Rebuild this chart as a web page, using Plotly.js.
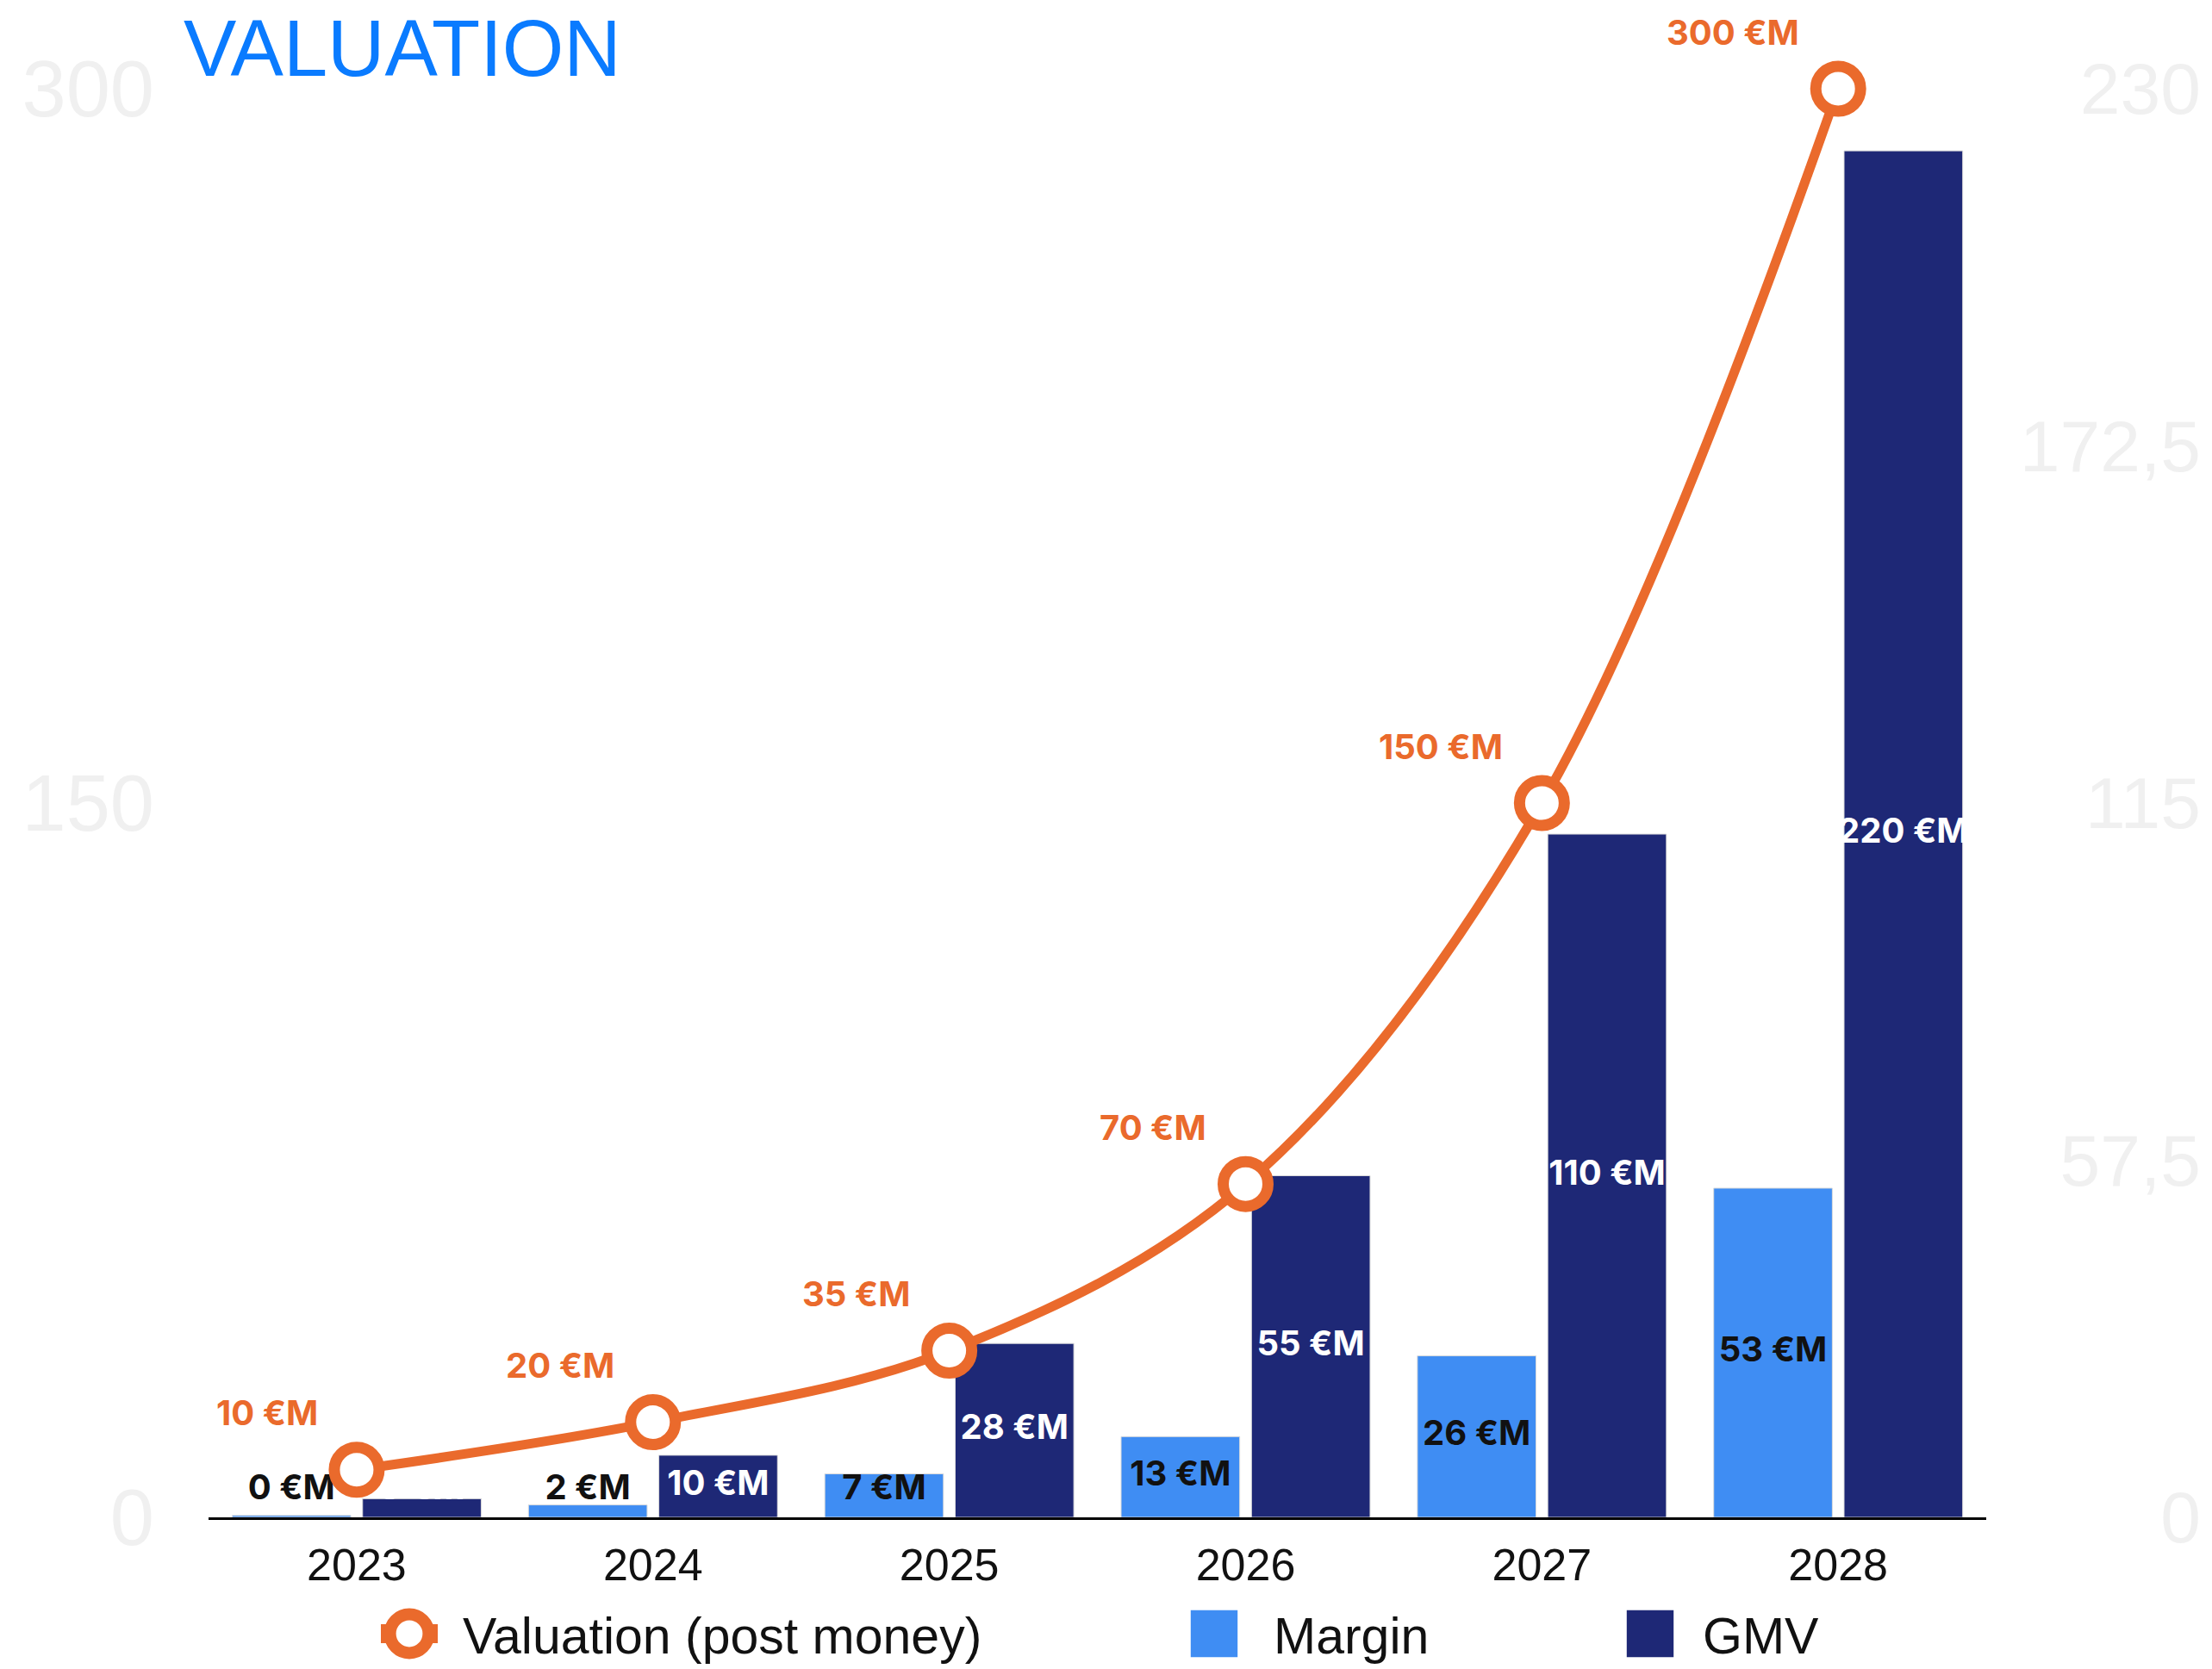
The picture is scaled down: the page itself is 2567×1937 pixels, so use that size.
<!DOCTYPE html>
<html>
<head>
<meta charset="utf-8">
<script src="https://cdn.plot.ly/plotly-3.0.1.min.js"></script>
<style>html,body{margin:0;padding:0;background:#fff;}#chart{width:2567px;height:1937px;}</style>
</head>
<body>
<div id="chart"></div>
<script>
const years = [2023, 2024, 2025, 2026, 2027, 2028];
const yearLabels = ['2023', '2024', '2025', '2026', '2027', '2028'];
const valuation = [10, 20, 35, 70, 150, 300];
const margin = [0.3, 2, 7, 13, 26, 53];
const gmv = [3, 10, 28, 55, 110, 220];
const leftTicks = [0, 150, 300];
const leftTickText = ['0', '150', '300'];
const rightTicks = [0, 57.5, 115, 172.5, 230];
const rightTickText = ['0', '57,5', '115', '172,5', '230'];

const ORANGE = '#EA6A2C';
const LIGHT = '#3F8DF3';
const NAVY = '#1E2876';
const SANS = '"Liberation Sans", Arial, sans-serif';
const BOLD = 'Inter, "Open Sans", sans-serif';
const fmt = v => Math.round(v) + ' €M';
const OFF = 0.22;
const labelY = v => Math.max(v / 2, 4.3);

const traces = [
  {type: 'bar', name: 'Margin', x: years, y: margin, yaxis: 'y', showlegend: false,
   marker: {color: LIGHT, line: {color: '#dcdcdc', width: 1}}, hoverinfo: 'skip'},
  {type: 'bar', name: 'GMV', x: years, y: gmv, yaxis: 'y', showlegend: false,
   marker: {color: NAVY, line: {color: '#dcdcdc', width: 1}}, hoverinfo: 'skip'},
  // legend entries for the two bar series (square swatches)
  {type: 'scatter', mode: 'markers', name: 'Margin', legendrank: 2, x: [null], y: [null], yaxis: 'y',
   marker: {symbol: 'square', size: 16, color: LIGHT}, hoverinfo: 'skip'},
  {type: 'scatter', mode: 'markers', name: 'GMV', legendrank: 3, x: [null], y: [null], yaxis: 'y',
   marker: {symbol: 'square', size: 16, color: NAVY}, hoverinfo: 'skip'},
  {type: 'scatter', mode: 'text', showlegend: false, yaxis: 'y', cliponaxis: false,
   x: years.map(v => v - OFF), y: margin.map(labelY), text: margin.map(fmt),
   textposition: 'middle center', textfont: {family: BOLD, size: 40, weight: 700, color: '#111'}},
  {type: 'scatter', mode: 'text', showlegend: false, yaxis: 'y', cliponaxis: false,
   x: years.map(v => v + OFF), y: gmv.map(labelY), text: gmv.map(fmt),
   textposition: 'middle center', textfont: {family: BOLD, size: 40, weight: 700, color: '#ffffff'}},
  {type: 'scatter', mode: 'lines+markers', name: 'Valuation (post money)', legendrank: 1,
   x: years, y: valuation, yaxis: 'y2', cliponaxis: false,
   line: {color: ORANGE, width: 11, shape: 'spline', smoothing: 1},
   marker: {symbol: 'circle', size: 52, color: '#ffffff', line: {color: ORANGE, width: 13}}}
];

const annotations = years.map((yr, i) => ({
  x: yr, y: valuation[i], xref: 'x', yref: 'y2', text: fmt(valuation[i]), showarrow: false,
  xanchor: 'right', yanchor: 'middle', xshift: -43, yshift: 66,
  font: {family: BOLD, size: 40, weight: 700, color: ORANGE}
}));

const layout = {
  width: 2567, height: 1937,
  margin: {l: 242, r: 10, t: 103, b: 176, pad: 0, autoexpand: false},
  paper_bgcolor: '#ffffff', plot_bgcolor: '#ffffff',
  showlegend: true,
  barmode: 'group', bargap: 0.12, bargroupgap: 0.09,
  title: {text: 'VALUATION', xref: 'container', yref: 'container', x: 213 / 2567, xanchor: 'left',
    y: 0.9877, yanchor: 'top', font: {family: SANS, size: 92, color: '#0A7BFF'}},
  xaxis: {domain: [0, 0.8912], range: [2022.5, 2028.5], tickvals: years, ticktext: yearLabels,
    showline: true, linecolor: '#000', linewidth: 3, ticks: '', showgrid: false, zeroline: false,
    ticklabelstandoff: 8, tickfont: {family: SANS, size: 52, color: '#111'}},
  yaxis: {range: [0, 230], anchor: 'free', position: 1, side: 'right', ticklabelposition: 'inside',
    ticklabeloverflow: 'allow',
    tickvals: rightTicks, ticktext: rightTickText, showgrid: false, zeroline: false, showline: false, ticks: '',
    tickfont: {family: SANS, size: 84, color: '#f0f0f0'}},
  yaxis2: {range: [0, 300], overlaying: 'y', side: 'left', anchor: 'x',
    tickvals: leftTicks, ticktext: leftTickText, showgrid: false, zeroline: false, showline: false, ticks: '',
    ticklabelstandoff: 62,
    tickfont: {family: SANS, size: 92, color: '#f0f0f0'}},
  legend: {orientation: 'h', x: 0.0924, y: -0.0815, xanchor: 'left', yanchor: 'middle',
    bgcolor: 'rgba(0,0,0,0)', borderwidth: 0, traceorder: 'normal',
    font: {family: SANS, size: 59, color: '#111'}},
  annotations: annotations
};

// enlarge legend icons (Plotly caps legend symbol size), set text gap and spread the items
const legendTextGap = {'Valuation (post money)': 62, 'Margin': 69, 'GMV': 61};
const legendScale = {'Valuation (post money)': 2.8, 'Margin': 3.4, 'GMV': 3.4};
const legendIconX = {'Valuation (post money)': 475, 'Margin': 1409, 'GMV': 1915};
function centerOf(el) {
  const bb = el.getBBox();
  return {w: bb.width, h: bb.height, cx: bb.x + bb.width / 2, cy: bb.y + bb.height / 2};
}
function parseTranslate(el) {
  const m = /translate\(\s*([-\d.e]+)[\s,]+([-\d.e]+)/.exec(el.getAttribute('transform') || '');
  return m ? [parseFloat(m[1]), parseFloat(m[2])] : [0, 0];
}
function enlargeLegend(gd) {
  gd.querySelectorAll('[clip-path]').forEach(el => {
    if (/legend/.test(el.getAttribute('clip-path'))) el.removeAttribute('clip-path');
  });
  gd.querySelectorAll('text.legendtext').forEach(txt => {
    try {
      const tr = txt.parentNode;
      const name = txt.textContent.trim();
      if (legendScale[name] === undefined) return;
      let cx = null, c = null;
      const sym = tr.querySelector('g.legendsymbols');
      const lines = tr.querySelector('g.legendlines');
      if (sym) {
        c = centerOf(sym);
        if (c.w > 0) {
          const k = legendScale[name];
          sym.setAttribute('transform', `translate(${c.cx},${c.cy}) scale(${k}) translate(${-c.cx},${-c.cy})`);
          cx = c.cx;
        }
      }
      if (lines) {
        const l = centerOf(lines);
        if (l.w > 0) {
          const tx = cx !== null ? c.cx : l.cx, ty = cx !== null ? c.cy : l.cy;
          lines.setAttribute('transform', `translate(${tx},${ty}) scale(${66 / l.w},2.2) translate(${-l.cx},${-l.cy})`);
          if (cx === null) cx = l.cx;
        }
      }
      if (cx !== null) txt.setAttribute('x', cx + legendTextGap[name]);
      const ref = (sym && c && c.w > 0) ? sym : lines;
      if (ref) {
        const r = ref.getBoundingClientRect();
        const host = gd.getBoundingClientRect();
        const cur = r.left - host.left + r.width / 2;
        const delta = legendIconX[name] - cur;
        if (Math.abs(delta) > 0.5) {
          const [x0, y0] = parseTranslate(tr);
          tr.setAttribute('transform', `translate(${x0 + delta},${y0})`);
        }
      }
    } catch (e) { /* ignore */ }
  });
}

Plotly.newPlot('chart', traces, layout, {displayModeBar: false, staticPlot: true}).then(gd => {
  enlargeLegend(gd);
  gd.on('plotly_afterplot', () => enlargeLegend(gd));
  let n = 0;
  const timer = setInterval(() => { enlargeLegend(gd); if (++n > 40) clearInterval(timer); }, 50);
});
</script>
</body>
</html>
